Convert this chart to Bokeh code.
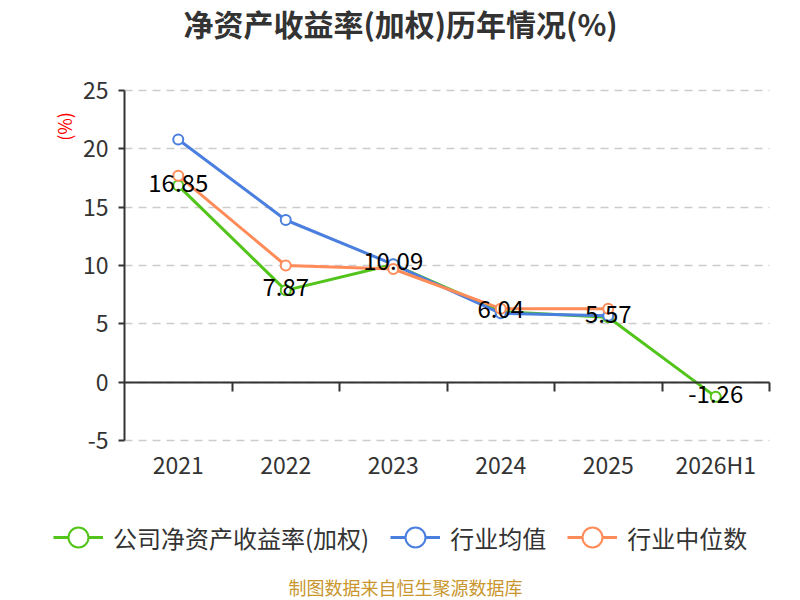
import math
from bokeh.plotting import figure
from bokeh.models import (Range1d, FixedTicker, LinearAxis, Grid, Legend,
                          LegendItem, Label)
from bokeh.core.properties import value
from bokeh.embed import file_html
from bokeh.resources import INLINE

# ---------------- data ----------------
categories = ["2021", "2022", "2023", "2024", "2025", "2026H1"]
company_roe = [16.85, 7.87, 10.09, 6.04, 5.57, -1.26]
industry_avg = [20.8, 13.9, 10.1, 5.9, 5.7]
industry_median = [17.7, 10.0, 9.7, 6.3, 6.3]
y_ticks = [-5, 0, 5, 10, 15, 20, 25]

title_text = "净资产收益率(加权)历年情况(%)"
unit_text = "(%)"
source_text = "制图数据来自恒生聚源数据库"
legend_labels = ["公司净资产收益率(加权)", "行业均值", "行业中位数"]

# ---------------- style / geometry ----------------
FONT = "Noto Sans CJK SC"
GREEN = "#52c41a"
BLUE = "#4b7fdf"
ORANGE = "#ff8b59"
TXT = "#333333"
colors = [GREEN, BLUE, ORANGE]

W, H = 800, 600
PL, PR, PT, PB = 124, 769, 90, 440          # chart area in page pixels
y_min, y_max = -5, 25
n = len(categories)
x_lo, x_hi = -0.5, n - 0.5
kx = (PR - PL) / (x_hi - x_lo)
ky = (PB - PT) / (y_max - y_min)

def X(px):
    return x_lo + (px - PL) / kx
def Y(py):
    return y_max - (py - PT) / ky

p = figure(width=W, height=H, output_backend="svg", toolbar_location=None,
           x_range=Range1d(X(0), X(W)), y_range=Range1d(Y(H), Y(0)),
           x_axis_type=None, y_axis_type=None, min_border=0)
p.title.visible = False
p.outline_line_color = None
p.background_fill_color = "white"
p.border_fill_color = "white"

xs = list(range(n))

# horizontal dashed grid limited to chart area
grid = Grid(dimension=1, ticker=FixedTicker(ticks=y_ticks),
            grid_line_color="#cccccc", grid_line_dash="8 6",
            grid_line_width=1.5, cross_bounds=(x_lo, x_hi))
p.add_layout(grid)

# category label axis at the bottom of the chart area
xaxis = LinearAxis(fixed_location=y_min, bounds=(x_lo, x_hi),
                   ticker=FixedTicker(ticks=xs),
                   major_label_overrides={i: c for i, c in enumerate(categories)},
                   axis_line_color=None, major_tick_line_color=None,
                   major_tick_out=0, major_tick_in=0,
                   minor_tick_line_color=None, major_label_standoff=6,
                   major_label_text_font=FONT, major_label_text_font_size="23px",
                   major_label_text_color=TXT)
p.add_layout(xaxis, "below")

# zero axis with category boundary ticks
zero_axis = LinearAxis(fixed_location=0, bounds=(x_lo, x_hi),
                       ticker=FixedTicker(ticks=[i + 0.5 for i in xs]),
                       major_label_text_color=None,
                       axis_line_color=TXT, axis_line_width=2,
                       major_tick_out=9, major_tick_in=0,
                       major_tick_line_color=TXT, major_tick_line_width=2,
                       minor_tick_line_color=None)
p.add_layout(zero_axis, "below")

# y axis
yaxis = LinearAxis(fixed_location=x_lo, bounds=(y_min, y_max),
                   ticker=FixedTicker(ticks=y_ticks),
                   major_label_overrides={t: str(t) for t in y_ticks},
                   axis_line_color=TXT, axis_line_width=2,
                   major_tick_out=6, major_tick_in=0,
                   major_tick_line_color=TXT, major_tick_line_width=2,
                   minor_tick_line_color=None, major_label_standoff=10,
                   major_label_text_font=FONT, major_label_text_font_size="23px",
                   major_label_text_color=TXT)
p.add_layout(yaxis, "left")

# series
rends = []
for vals, color in zip([company_roe, industry_avg, industry_median], colors):
    x = xs[:len(vals)]
    ln = p.line(x, vals, line_color=color, line_width=3)
    sc = p.scatter(x, vals, marker="circle", size=10, fill_color="white",
                   line_color=color, line_width=2)
    rends.append([ln, sc])

p.text(x=xs, y=company_roe, text=[f"{v:.2f}" for v in company_roe],
       text_font=value(FONT), text_font_size="24px", text_color="black",
       text_align="center", text_baseline="middle", y_offset=-3)

# legend
legend = Legend(items=[LegendItem(label=l, renderers=r) for l, r in zip(legend_labels, rends)],
                orientation="horizontal", location=(53, 33),
                glyph_width=50, glyph_height=60, label_standoff=10,
                spacing=21, padding=0, margin=0,
                border_line_color=None, background_fill_alpha=0,
                label_text_font=FONT, label_text_font_size="24px",
                label_text_color=TXT)
p.add_layout(legend, "center")

# texts
p.add_layout(Label(x=X(400), y=Y(22), text=title_text, text_align="center",
                   text_baseline="middle", text_font=FONT, text_font_size="30px",
                   text_font_style="bold", text_color=TXT))
p.add_layout(Label(x=X(63), y=Y(126), text=unit_text, angle=math.pi / 2,
                   text_align="center", text_baseline="middle", text_font=FONT,
                   text_font_size="18px", text_color="red"))
p.add_layout(Label(x=X(405), y=Y(586), text=source_text, text_align="center",
                   text_baseline="middle", text_font=FONT, text_font_size="18px",
                   text_color="#c8962d"))

open("out.html", "w").write(file_html(p, INLINE))
